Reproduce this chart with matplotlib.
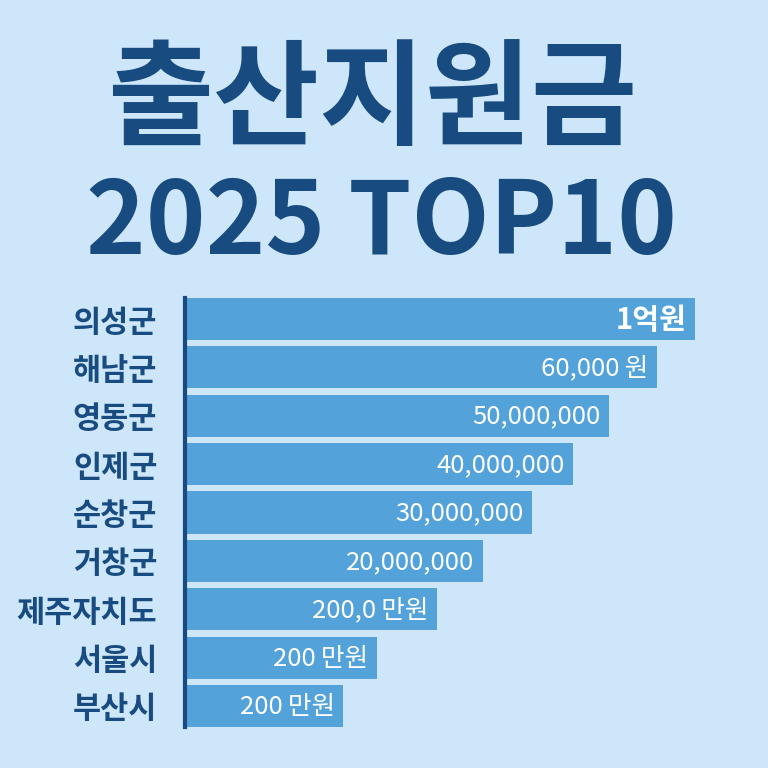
import matplotlib.pyplot as plt

plt.rcParams['font.family'] = ['Noto Sans CJK KR', 'DejaVu Sans']

# regions, top to bottom
regions = ['의성군', '해남군', '영동군', '인제군', '순창군', '거창군', '제주자치도', '서울시', '부산시']
# bar lengths as drawn (relative, longest = 100)
bar_len = [100, 92.5, 83.1, 76.1, 68.0, 58.4, 49.4, 37.6, 31.0]
# value text written on each bar
bar_text = ['1억원', '60,000\u2009원', '50,000,000', '40,000,000', '30,000,000',
            '20,000,000', '200,0\u2009만원', '200\u2009만원', '200\u2009만원']

bg = '#cde6f9'
bar_color = '#53a3da'
dark = '#184b7f'

fig = plt.figure(figsize=(7.68, 7.68), dpi=100)
fig.patch.set_facecolor(bg)

# title
fig.text(0.485, 0.866, '출산지원금', ha='center', va='center', fontsize=83,
         fontweight='bold', color=dark)
fig.text(0.497, 0.708, '2025 TOP10', ha='center', va='center', fontsize=73,
         fontweight='bold', color=dark)

ax = fig.add_axes([185 / 768, 41 / 768, 545 / 768, 429 / 768])
ax.set_facecolor(bg)

ypos = list(range(len(regions)))
ax.barh(ypos, bar_len, height=0.87, color=bar_color, zorder=1)
ax.set_xlim(0, 545 / 5.1)
ax.set_ylim(len(regions) - 1 + 0.435, -0.435)

for i, (v, t) in enumerate(zip(bar_len, bar_text)):
    fs = 21 if i == 0 else 18.5
    fw = 'bold' if i == 0 else 'medium'
    ax.text(v - 1.6, i + 0.02, t, ha='right', va='center', color='white',
            fontsize=fs, fontweight=fw)

ax.set_yticks(ypos)
ax.set_yticklabels(regions, fontsize=22, fontweight='bold', color=dark)
ax.tick_params(axis='y', length=0, pad=20)
ax.set_xticks([])

for s in ['top', 'right', 'bottom']:
    ax.spines[s].set_visible(False)
ax.spines['left'].set_color(dark)
ax.spines['left'].set_linewidth(3)
ax.spines['left'].set_zorder(3)

plt.savefig('out.png', dpi=100, facecolor=bg)
